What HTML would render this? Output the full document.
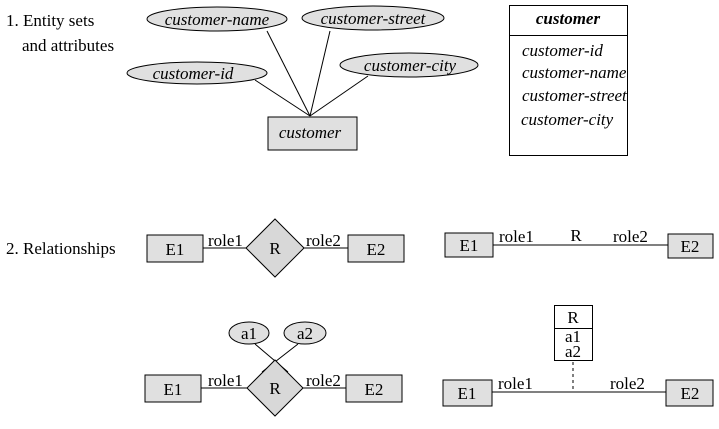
<!DOCTYPE html>
<html><head><style>body{margin:0;background:#fff}svg{display:block}</style></head><body>
<svg width="719" height="429" xmlns="http://www.w3.org/2000/svg" font-family="Liberation Serif, serif" font-size="17" fill="#000">
<g stroke="#000" stroke-width="1">
<line x1="267" y1="31" x2="310" y2="116"/><line x1="330" y1="31" x2="310" y2="116"/>
<line x1="255" y1="80" x2="310" y2="116"/><line x1="368" y1="76" x2="310" y2="116"/>
<ellipse cx="217" cy="19" rx="70" ry="12" fill="#e0e0e0"/>
<ellipse cx="373" cy="18" rx="71" ry="12" fill="#e0e0e0"/>
<ellipse cx="197" cy="73" rx="70" ry="11" fill="#e0e0e0"/>
<ellipse cx="409" cy="65" rx="69" ry="12" fill="#e0e0e0"/>
<rect x="268" y="117" width="89" height="33" fill="#e0e0e0"/>
<rect x="509.5" y="5.5" width="118" height="150" fill="#fff"/>
<line x1="509" y1="35.5" x2="627" y2="35.5"/>
<line x1="203" y1="248" x2="246" y2="248"/><line x1="304" y1="248" x2="348" y2="248"/>
<rect x="147" y="235" width="56" height="27" fill="#e0e0e0"/>
<rect x="348" y="235" width="56" height="27" fill="#e0e0e0"/>
<polygon points="275,219 304,248 275,277 246,248" fill="#d8d8d8"/>
<line x1="493" y1="245" x2="668" y2="245"/>
<rect x="445" y="233" width="48" height="24" fill="#e0e0e0"/>
<rect x="668" y="234" width="45" height="24" fill="#e0e0e0"/>
<line x1="255" y1="344" x2="288" y2="372"/><line x1="298" y1="344" x2="262" y2="372"/>
<line x1="201" y1="388" x2="247" y2="388"/><line x1="303" y1="388" x2="346" y2="388"/>
<ellipse cx="249" cy="333" rx="20" ry="11" fill="#e0e0e0"/>
<ellipse cx="305" cy="333" rx="21" ry="11" fill="#e0e0e0"/>
<rect x="145" y="375" width="56" height="27" fill="#e0e0e0"/>
<rect x="346" y="375" width="56" height="27" fill="#e0e0e0"/>
<polygon points="275,360 303,388 275,416 247,388" fill="#d8d8d8"/>
<rect x="554.5" y="305.5" width="38" height="55" fill="#fff"/>
<line x1="554" y1="328.5" x2="592" y2="328.5"/>
<line x1="573" y1="362" x2="573" y2="390" stroke-dasharray="3,3"/>
<line x1="492" y1="392" x2="666" y2="392"/>
<rect x="443" y="380" width="49" height="26" fill="#e0e0e0"/>
<rect x="666" y="380" width="47" height="26" fill="#e0e0e0"/>
</g>
<text x="6" y="26">1. Entity sets</text><text x="22" y="51">and attributes</text>
<g font-style="italic" text-anchor="middle">
<text x="217" y="25">customer-name</text><text x="373" y="24">customer-street</text>
<text x="193" y="79">customer-id</text><text x="410" y="71">customer-city</text>
<text x="310" y="138">customer</text>
<text x="568" y="24" font-weight="bold">customer</text>
</g>
<g font-style="italic">
<text x="522" y="56">customer-id</text><text x="522" y="78">customer-name</text>
<text x="522" y="101">customer-street</text><text x="521" y="125">customer-city</text>
</g>
<text x="6" y="254">2. Relationships</text>
<g text-anchor="middle">
<text x="175" y="255">E1</text><text x="376" y="255">E2</text><text x="275" y="254">R</text>
<text x="469" y="251">E1</text><text x="690" y="252">E2</text><text x="576" y="241">R</text>
<text x="173" y="395">E1</text><text x="374" y="395">E2</text><text x="275" y="394">R</text>
<text x="249" y="339">a1</text><text x="305" y="339">a2</text>
<text x="573" y="323">R</text><text x="573" y="342">a1</text><text x="573" y="357">a2</text>
<text x="467" y="399">E1</text><text x="690" y="399">E2</text>
</g>
<text x="208" y="246">role1</text><text x="306" y="246">role2</text>
<text x="499" y="242">role1</text><text x="613" y="242">role2</text>
<text x="208" y="386">role1</text><text x="306" y="386">role2</text>
<text x="498" y="389">role1</text><text x="610" y="389">role2</text>
</svg>
</body></html>
